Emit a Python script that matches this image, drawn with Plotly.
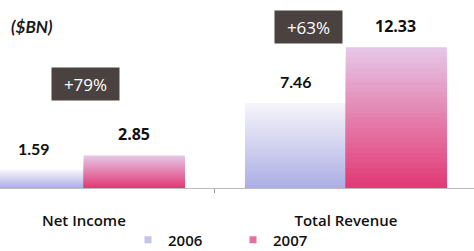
import plotly.graph_objects as go

categories = ["Net Income", "Total Revenue"]
years = ["2006", "2007"]
values_2006 = [1.59, 7.46]
values_2007 = [2.85, 12.33]
growth_labels = ["+79%", "+63%"]
unit_label = "($BN)"

N = 28

def lerp(c1, c2, t):
    return "rgb(%d,%d,%d)" % tuple(round(a + (b - a) * t) for a, b in zip(c1, c2))

# bottom colour, top colour
grad = {
    "2006": ((172, 174, 228), (247, 245, 251)),
    "2007": ((226, 56, 116), (230, 200, 232)),
}
legend_col = {"2006": "rgb(196,196,232)", "2007": "rgb(228,110,160)"}

fig = go.Figure()
for year, vals in (("2006", values_2006), ("2007", values_2007)):
    bot, top = grad[year]
    for k in range(N, 0, -1):
        frac = k / N
        t = (k - 0.5) / N
        fig.add_trace(go.Bar(
            x=categories, y=[v * frac for v in vals],
            offsetgroup=year, legendgroup=year, name=year,
            marker=dict(color=lerp(bot, top, t), line=dict(width=0)),
            showlegend=False, hoverinfo="skip",
        ))
    fig.add_trace(go.Scatter(
        x=[None], y=[None], name=year, legendgroup=year, mode="markers",
        marker=dict(color=legend_col[year], symbol="square", size=7), showlegend=True,
    ))

# value labels
for i, c in enumerate(categories):
    for year, vals, shift in (("2006", values_2006, -50), ("2007", values_2007, 50)):
        fig.add_annotation(x=c, y=vals[i], text="<b>%.2f</b>" % vals[i], xref="x", yref="y",
                           showarrow=False, xshift=shift, yshift=21, yanchor="middle",
                           font=dict(family="Open Sans, DejaVu Sans" if year == "2007" else "Lato, DejaVu Sans",
                                     size=16, color="#111"))

# growth boxes
box_pos = [(0.181, 0.584), (0.65, 0.904)]
for (px, py), g in zip(box_pos, growth_labels):
    fig.add_annotation(x=px, y=py, xref="paper", yref="paper", text=g, showarrow=False,
                       font=dict(family="Open Sans, DejaVu Sans", size=17, color="white"),
                       bgcolor="#4a4240", borderpad=4, width=59, height=24,
                       xanchor="center", yanchor="middle")

fig.add_annotation(x=0.02, y=0.91, xref="paper", yref="paper", text="<b><i>%s</i></b>" % unit_label,
                   showarrow=False, xanchor="left", yanchor="middle",
                   font=dict(family="Lato, DejaVu Sans", size=17, color="#1a1a1a"))

fig.update_layout(
    width=474, height=251,
    margin=dict(l=0, r=0, t=10, b=63),
    paper_bgcolor="white", plot_bgcolor="white",
    barmode="group", bargap=0.23, bargroupgap=0,
    showlegend=True,
    legend=dict(orientation="h", x=0.27, xanchor="left", xref="container",
                y=(251 - 240) / 251, yanchor="middle", yref="container",
                font=dict(family="Open Sans, DejaVu Sans", size=15, color="#111", weight=600),
                itemwidth=30, traceorder="normal", bgcolor="rgba(0,0,0,0)",
                entrywidth=60, entrywidthmode="pixels"),
    xaxis=dict(range=[-0.32, 1.489], showgrid=False, showline=True, linecolor="#bbbbbb",
               linewidth=1, ticks="outside", tickson="boundaries", ticklen=4, tickcolor="#999",
               tickfont=dict(family="Open Sans, DejaVu Sans", size=15, color="#111", weight=600),
               ticklabelstandoff=19, fixedrange=True, automargin=False),
    yaxis=dict(range=[0, 15.6], visible=False, showgrid=False, zeroline=False, fixedrange=True,
               automargin=False),
)

fig.write_html("out.html", config={"displayModeBar": False},
               post_script="document.body.style.margin='0';")
